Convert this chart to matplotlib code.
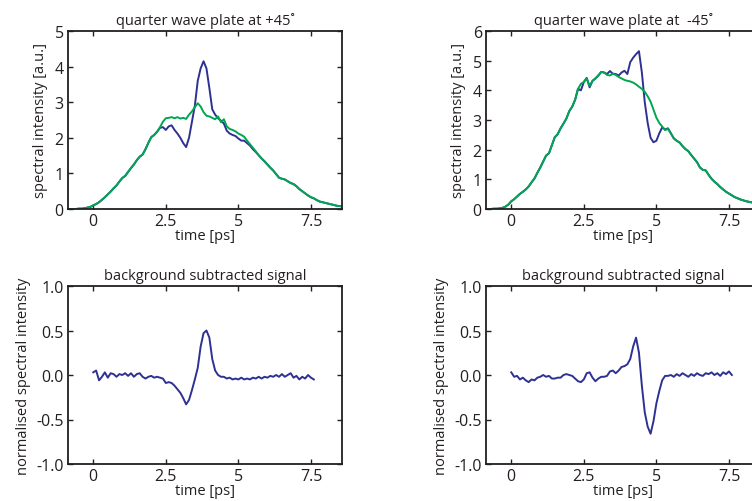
import numpy as np
import matplotlib
matplotlib.use("Agg")
import matplotlib.pyplot as plt

plt.rcParams['font.family'] = ['Open Sans', 'DejaVu Sans']
plt.rcParams['axes.unicode_minus'] = False

# ---------------- data ----------------
t_top = np.round(np.arange(-0.9, 8.65, 0.1), 1)   # time grid [ps] for top panels
t_bot = np.round(np.arange(0.0, 7.65, 0.1), 1)    # time grid [ps] for bottom panels

# quarter wave plate at +45 deg
tl_green = [0.00, 0.00, 0.00, 0.00, 0.01, 0.01, 0.02, 0.04, 0.06,
            0.10, 0.14, 0.19, 0.26, 0.33, 0.41, 0.49, 0.58, 0.66, 0.77,
            0.87, 0.93, 1.04, 1.15, 1.25, 1.37, 1.47, 1.53, 1.68, 1.86,
            2.02, 2.08, 2.17, 2.30, 2.45, 2.55, 2.56, 2.58, 2.55, 2.58,
            2.54, 2.56, 2.53, 2.65, 2.74, 2.86, 2.97, 2.88, 2.72, 2.62,
            2.60, 2.56, 2.52, 2.60, 2.44, 2.52, 2.32, 2.25, 2.22, 2.18,
            2.12, 2.08, 2.03, 1.92, 1.82, 1.72, 1.62, 1.51, 1.42, 1.34,
            1.25, 1.16, 1.08, 0.98, 0.88, 0.85, 0.83, 0.78, 0.73, 0.70,
            0.64, 0.56, 0.50, 0.44, 0.38, 0.33, 0.30, 0.25, 0.21, 0.19,
            0.17, 0.15, 0.13, 0.11, 0.09, 0.08, 0.07]
tl_blue = [0.00, 0.00, 0.00, 0.00, 0.01, 0.01, 0.02, 0.04, 0.06,
           0.10, 0.14, 0.19, 0.26, 0.33, 0.41, 0.49, 0.58, 0.66, 0.77,
           0.87, 0.93, 1.04, 1.15, 1.25, 1.37, 1.47, 1.53, 1.68, 1.86,
           2.02, 2.08, 2.17, 2.28, 2.30, 2.22, 2.32, 2.35, 2.22, 2.12,
           2.00, 1.85, 1.74, 2.00, 2.45, 2.90, 3.60, 3.95, 4.15, 3.95,
           3.40, 2.80, 2.65, 2.55, 2.48, 2.40, 2.20, 2.12, 2.08, 2.05,
           1.98, 1.92, 1.92, 1.85, 1.78, 1.68, 1.60, 1.51, 1.42, 1.34,
           1.25, 1.16, 1.08, 0.98, 0.88, 0.85, 0.83, 0.78, 0.73, 0.70,
           0.64, 0.56, 0.50, 0.44, 0.38, 0.33, 0.30, 0.25, 0.21, 0.19,
           0.17, 0.15, 0.13, 0.11, 0.09, 0.08, 0.07]

# quarter wave plate at -45 deg
tr_green = [0.00, 0.00, 0.00, 0.01, 0.01, 0.02, 0.04, 0.08, 0.15,
            0.26, 0.33, 0.42, 0.51, 0.58, 0.66, 0.76, 0.90, 1.03, 1.22,
            1.40, 1.60, 1.80, 1.88, 2.15, 2.42, 2.52, 2.72, 2.88, 3.05,
            3.30, 3.45, 3.68, 4.05, 4.22, 4.28, 4.40, 4.15, 4.32, 4.40,
            4.50, 4.62, 4.60, 4.52, 4.50, 4.56, 4.52, 4.45, 4.40, 4.35,
            4.32, 4.30, 4.26, 4.20, 4.12, 4.05, 3.95, 3.80, 3.62, 3.35,
            3.08, 2.90, 2.78, 2.66, 2.70, 2.55, 2.38, 2.30, 2.24, 2.12,
            2.02, 1.95, 1.82, 1.70, 1.58, 1.40, 1.32, 1.30, 1.15, 1.02,
            0.92, 0.84, 0.74, 0.66, 0.58, 0.52, 0.46, 0.40, 0.36, 0.32,
            0.29, 0.26, 0.24, 0.22, 0.20, 0.18, 0.17]
tr_blue = [0.00, 0.00, 0.00, 0.01, 0.01, 0.02, 0.04, 0.08, 0.15,
           0.26, 0.33, 0.42, 0.51, 0.58, 0.66, 0.76, 0.90, 1.03, 1.22,
           1.40, 1.60, 1.80, 1.88, 2.15, 2.42, 2.52, 2.72, 2.88, 3.05,
           3.30, 3.45, 3.68, 4.05, 4.00, 4.28, 4.42, 4.10, 4.32, 4.40,
           4.50, 4.62, 4.60, 4.55, 4.65, 4.56, 4.55, 4.50, 4.60, 4.66,
           4.55, 4.95, 5.10, 5.22, 5.32, 4.60, 3.60, 2.90, 2.40, 2.25,
           2.30, 2.55, 2.75, 2.68, 2.72, 2.55, 2.38, 2.30, 2.24, 2.12,
           2.02, 1.95, 1.82, 1.70, 1.58, 1.40, 1.32, 1.30, 1.15, 1.02,
           0.92, 0.84, 0.74, 0.66, 0.58, 0.52, 0.46, 0.40, 0.36, 0.32,
           0.29, 0.26, 0.24, 0.22, 0.20, 0.18, 0.17]

# background subtracted signals
bl_signal = [0.03, 0.05, -0.06, -0.02, 0.03, -0.03, 0.02, 0.01, -0.02, 0.01,
             0.00, 0.02, -0.01, 0.02, -0.02, 0.01, 0.02, -0.02, -0.04, -0.02,
             -0.01, -0.03, -0.02, -0.03, -0.04, -0.09, -0.08, -0.09, -0.12, -0.16,
             -0.20, -0.26, -0.33, -0.28, -0.17, -0.05, 0.08, 0.32, 0.47, 0.50,
             0.42, 0.18, 0.05, 0.00, -0.02, -0.02, -0.04, -0.03, -0.05, -0.04,
             -0.05, -0.03, -0.05, -0.04, -0.05, -0.03, -0.04, -0.02, -0.04, -0.02,
             -0.03, -0.01, -0.02, 0.00, -0.02, 0.01, -0.02, 0.00, 0.02, -0.03,
             -0.01, -0.05, -0.02, -0.04, 0.00, -0.03, -0.05]
br_signal = [0.03, -0.02, -0.01, -0.05, -0.03, -0.06, -0.08, -0.05, -0.06, -0.03,
             -0.02, 0.00, -0.02, -0.01, -0.04, -0.04, -0.03, -0.03, 0.00, 0.01,
             0.00, -0.01, -0.04, -0.07, -0.08, -0.05, 0.02, 0.03, -0.03, -0.07,
             -0.04, -0.02, -0.02, -0.01, 0.04, 0.05, 0.02, 0.05, 0.09, 0.10,
             0.12, 0.18, 0.32, 0.42, 0.25, -0.12, -0.42, -0.58, -0.66, -0.52,
             -0.32, -0.18, -0.06, -0.01, -0.01, 0.00, -0.02, 0.01, -0.01, 0.02,
             0.00, -0.02, 0.01, -0.01, 0.02, 0.00, -0.01, 0.02, 0.01, 0.03,
             0.00, 0.02, -0.01, 0.03, 0.01, 0.04, 0.00]

x_ticks = [0, 2.5, 5, 7.5]
x_tick_labels = ["0", "2.5", "5", "7.5"]
top_titles = ["quarter wave plate at +45\u02da", "quarter wave plate at  -45\u02da"]
bottom_title = "background subtracted signal"

# ---------------- style ----------------
BLUE = '#2e3192'
GREEN = '#00a651'
TXT = '#231f20'
FS = 10.5
TFS = 11.5

fig = plt.figure(figsize=(7.52, 5.02), dpi=100)
W, H = 752.0, 502.0

def make_ax(x0, y_top, y_bot, width=274):
    return fig.add_axes([x0 / W, (H - y_bot) / H, width / W, (y_bot - y_top) / H])

ax_tl = make_ax(68, 32, 210)
ax_tr = make_ax(486, 32, 210)
ax_bl = make_ax(68, 287, 465)
ax_br = make_ax(486, 287, 465)

ax_tl.plot(t_top, tl_blue, color=BLUE, lw=1.4)
ax_tl.plot(t_top, tl_green, color=GREEN, lw=1.4)
ax_tr.plot(t_top, tr_blue, color=BLUE, lw=1.4)
ax_tr.plot(t_top, tr_green, color=GREEN, lw=1.4)
ax_bl.plot(t_bot, bl_signal, color=BLUE, lw=1.4)
ax_br.plot(t_bot, br_signal, color=BLUE, lw=1.4)

for ax in (ax_tl, ax_tr, ax_bl, ax_br):
    ax.set_xlim(-0.87, 8.57)
    ax.set_xticks(x_ticks)
    ax.set_xticklabels(x_tick_labels)
    ax.tick_params(direction='in', top=True, right=True, length=3.5, width=1.0,
                   labelsize=TFS, labelcolor=TXT, color=TXT, pad=3)
    for s in ax.spines.values():
        s.set_linewidth(1.3)
        s.set_color(TXT)
    ax.set_xlabel("time [ps]", fontsize=FS, color=TXT, labelpad=-1)

ax_tl.set_ylim(0, 5)
ax_tl.set_yticks([0, 1, 2, 3, 4, 5])
ax_tr.set_ylim(0, 6)
ax_tr.set_yticks([0, 1, 2, 3, 4, 5, 6])
for ax in (ax_tl, ax_tr):
    ax.set_ylabel("spectral intensity [a.u.]", fontsize=FS, color=TXT, labelpad=5)
for ax, title in zip((ax_tl, ax_tr), top_titles):
    ax.set_title(title, fontsize=FS, color=TXT, pad=5)

y_bot_ticks = [-1.0, -0.5, 0.0, 0.5, 1.0]
for ax in (ax_bl, ax_br):
    ax.set_ylim(-1.0, 1.0)
    ax.set_yticks(y_bot_ticks)
    ax.set_yticklabels(["%.1f" % v for v in y_bot_ticks])
    ax.set_ylabel("normalised spectral intensity", fontsize=FS, color=TXT, labelpad=4)
    ax.set_title(bottom_title, fontsize=FS, color=TXT, pad=5)

fig.savefig("out.png", dpi=100)
